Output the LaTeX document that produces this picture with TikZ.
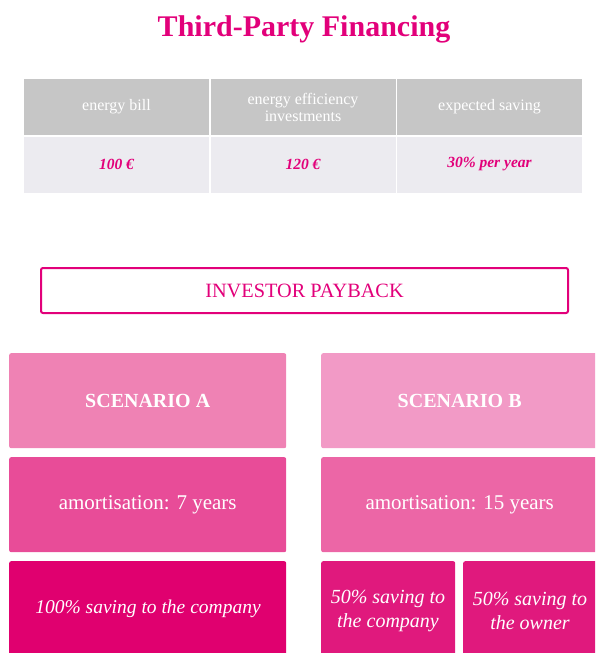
\documentclass[tikz,border=0pt]{standalone}
\usepackage{fontspec}
\setmainfont{Liberation Serif}
\definecolor{mag}{HTML}{E2007A}
\definecolor{hdrgray}{HTML}{C6C6C6}
\definecolor{rowgray}{HTML}{ECEBF0}
\definecolor{scA}{HTML}{EF82B4}
\definecolor{scB}{HTML}{F29AC6}
\definecolor{amA}{HTML}{E84C98}
\definecolor{amB}{HTML}{EC66A6}
\definecolor{svA}{HTML}{E0006F}
\definecolor{svB}{HTML}{E0197D}
\tikzset{
  cell/.style={anchor=north west, inner sep=0pt, minimum width=186pt, minimum height=57pt, align=center, draw=white, line width=1pt},
  hdr/.style={cell, fill=hdrgray, text=white, font=\fontsize{16}{17}\selectfont},
  val/.style={cell, fill=rowgray, text=mag, font=\fontsize{15.5}{17}\selectfont\bfseries\itshape},
  box/.style={anchor=north west, inner sep=0pt, rounded corners=2pt, text=white, align=center},
  wtxt/.style={text=white, align=center, font=\fontsize{20}{24}\selectfont\itshape},
}
\begin{document}
\begin{tikzpicture}[x=1pt,y=1pt]
\useasboundingbox (0,0) rectangle (595,-653);
\clip (0,0) rectangle (595,-653);
\node[text=mag, font=\fontsize{30}{32}\selectfont\bfseries] (title) at (304,-29) {Third-Party Financing};
% table
\node[hdr] (h1) at (23,-78) {energy bill};
\node[hdr] (h2) at (209.5,-78) {energy efficiency\\investments};
\node[hdr] (h3) at (396,-78) {expected saving};
\node[val] (v1) at (23,-135.5) {100 €};
\node[val] (v2) at (209.5,-135.5) {120 €};
\node[val] (v3) at (396,-135.5) {30\% per year};
% investor payback
\node[anchor=north west, draw=mag, line width=2pt, rounded corners=2pt, minimum width=527pt, minimum height=45pt, inner sep=0pt, text=mag, font=\fontsize{20.3}{22}\selectfont] (inv) at (40,-267) {INVESTOR PAYBACK};
% scenario A
\node[box, fill=scA, minimum width=277pt, minimum height=95pt, font=\fontsize{20}{22}\selectfont\bfseries] (sa) at (9,-353) {SCENARIO A};
\node[box, fill=amA, minimum width=277pt, minimum height=95pt, font=\fontsize{21}{24}\selectfont] (aa) at (9,-457) {amortisation: 7 years};
\node[box, fill=svA, minimum width=277pt, minimum height=100pt] (ca) at (9,-561) {};
\node[wtxt, font=\fontsize{19.5}{24}\selectfont\itshape] (cat) at (148,-609) {100\% saving to the company};
% scenario B
\node[box, fill=scB, minimum width=285pt, minimum height=95pt, font=\fontsize{20}{22}\selectfont\bfseries] (sb) at (321,-353) {\hspace*{-8pt}SCENARIO B};
\node[box, fill=amB, minimum width=285pt, minimum height=95pt, font=\fontsize{21}{24}\selectfont] (ab) at (321,-457) {\hspace*{-8pt}amortisation: 15 years};
\node[box, fill=svB, minimum width=134pt, minimum height=100pt] (cb1) at (321,-561) {};
\node[box, fill=svB, minimum width=140pt, minimum height=100pt] (cb2) at (463,-561) {};
\node[wtxt] (cb1t) at (388,-611) {50\% saving to\\the company};
\node[wtxt] (cb2t) at (530,-611) {50\% saving to\\the owner};
\end{tikzpicture}
\end{document}
